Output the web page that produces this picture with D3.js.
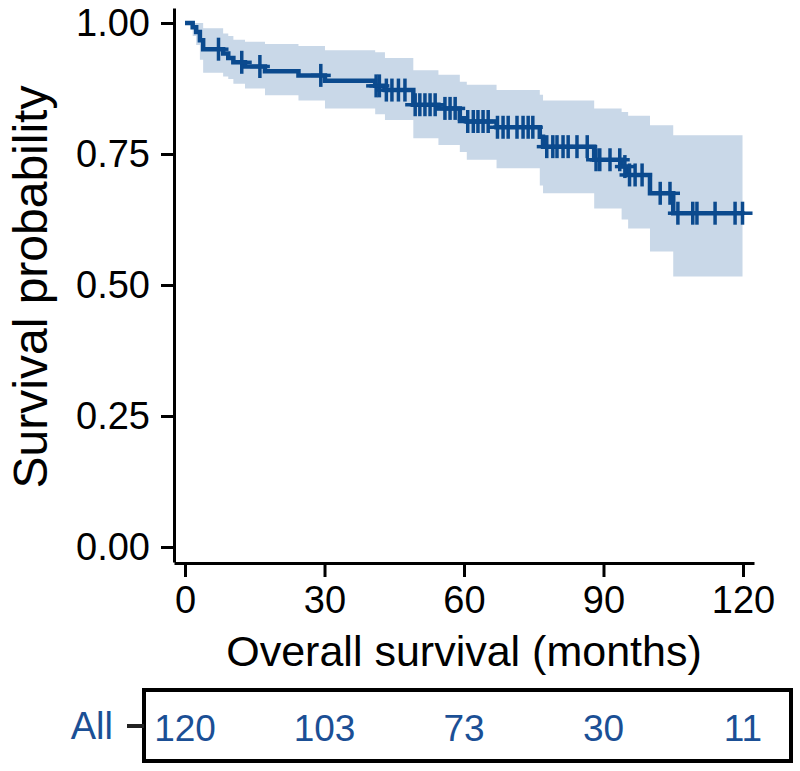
<!DOCTYPE html>
<html>
<head>
<meta charset="utf-8">
<script src="https://cdn.jsdelivr.net/npm/d3@7"></script>
<style>
  html, body { margin: 0; padding: 0; background: #ffffff; }
  svg { display: block; }
  text { font-family: "Liberation Sans", Arial, Helvetica, sans-serif; }
</style>
</head>
<body>
<svg id="chart" width="800" height="771"></svg>
<script>
// ---- Data ----
// Kaplan-Meier step times (months) and survival estimate after each step
const stepTimes = [0, 1.65, 2.4, 3.2, 3.9, 8.2, 9.3, 10.4, 12.9, 17.2, 24.4, 30.1, 40.9, 43.0, 49.1, 54.5, 59.1, 60.6, 67.0, 76.3, 77.0, 88.0, 93.9, 95.3, 100.0, 105.0];
const survival  = [1.000, 0.992, 0.983, 0.967, 0.950, 0.942, 0.933, 0.925, 0.917, 0.908, 0.900, 0.890, 0.880, 0.872, 0.844, 0.837, 0.818, 0.812, 0.801, 0.783, 0.764, 0.739, 0.726, 0.710, 0.675, 0.637];
const upperCI   = [1.000, 1.000, 1.000, 1.000, 0.990, 0.980, 0.975, 0.968, 0.964, 0.960, 0.956, 0.948, 0.944, 0.933, 0.910, 0.901, 0.888, 0.882, 0.872, 0.863, 0.852, 0.837, 0.830, 0.823, 0.805, 0.786];
const lowerCI   = [1.000, 0.975, 0.958, 0.930, 0.905, 0.898, 0.893, 0.884, 0.875, 0.862, 0.852, 0.837, 0.826, 0.815, 0.780, 0.767, 0.754, 0.739, 0.723, 0.690, 0.675, 0.646, 0.625, 0.608, 0.564, 0.516];
// Censoring times (months)
const censorTimes = [7.2, 12.2, 16.1, 29.2, 41.1, 41.8, 43.3, 44.5, 45.9, 47.3, 49.5, 50.5, 51.6, 52.7, 53.8,
  55.9, 57.0, 58.1, 60.8, 62.0, 63.0, 64.1, 65.2, 67.2, 68.4, 69.5, 71.4, 72.7, 73.8, 74.8,
  77.8, 79.1, 80.0, 81.3, 82.4, 84.3, 86.5, 88.4, 89.2, 91.4, 93.5, 94.6, 95.6, 96.8, 98.3,
  102.2, 104.3, 106.0, 109.2, 110.1, 114.0, 118.3, 119.9];
// Axis ticks
const xTicks = [0, 30, 60, 90, 120];
const yTicks = [0, 0.25, 0.5, 0.75, 1.0];
// Number at risk table
const riskGroup = "All";
const riskTimes = [0, 30, 60, 90, 120];
const riskCounts = [120, 103, 73, 30, 11];

// ---- Styles ----
const lineColor = "#0b4a8e";
const bandColor = "#c9d8e8";
const textBlue = "#1b4f95";

const svg = d3.select("#chart");

const x = d3.scaleLinear().domain([-2.37, 122.37]).range([174, 754]);
const y = d3.scaleLinear().domain([-0.0286, 1.0286]).range([562, 8]);

const endTime = d3.max(censorTimes);
const steps = stepTimes.map((t, i) => ({ t, s: survival[i], u: upperCI[i], l: lowerCI[i] }));
const stepsExt = steps.concat([{ t: endTime, s: survival[survival.length - 1], u: upperCI[upperCI.length - 1], l: lowerCI[lowerCI.length - 1] }]);

// Confidence band
const area = d3.area()
  .curve(d3.curveStepAfter)
  .x(d => x(d.t))
  .y0(d => y(d.l))
  .y1(d => y(d.u));
svg.append("path").datum(stepsExt)
  .attr("d", area)
  .attr("fill", bandColor)
  .attr("stroke", "none");

// Survival curve
const line = d3.line()
  .curve(d3.curveStepAfter)
  .x(d => x(d.t))
  .y(d => y(d.s));
svg.append("path").datum(stepsExt)
  .attr("d", line)
  .attr("fill", "none")
  .attr("stroke", lineColor)
  .attr("stroke-width", 4.5);

// Censor marks
const bis = d3.bisector(d => d.t).right;
function survAt(t) {
  const i = bis(steps, t) - 1;
  return steps[Math.max(0, i)].s;
}
const marks = svg.append("g");
censorTimes.forEach(t => {
  const cx = x(t), cy = y(survAt(t));
  marks.append("line").attr("x1", cx).attr("x2", cx).attr("y1", cy - 11.5).attr("y2", cy + 11.5)
    .attr("stroke", lineColor).attr("stroke-width", 3.5);
  marks.append("line").attr("x1", cx - 10).attr("x2", cx + 10).attr("y1", cy).attr("y2", cy)
    .attr("stroke", lineColor).attr("stroke-width", 3.5);
});

// Axes
const yAxis = d3.axisLeft(y).tickValues(yTicks).tickFormat(d3.format(".2f"))
  .tickSize(13).tickSizeOuter(0).tickPadding(11);
const gy = svg.append("g").attr("transform", "translate(174,0)").call(yAxis);
const xAxis = d3.axisBottom(x).tickValues(xTicks).tickFormat(d3.format("d"))
  .tickSize(14).tickSizeOuter(0).tickPadding(9);
const gx = svg.append("g").attr("transform", "translate(0,563)").call(xAxis);

[gx, gy].forEach(g => {
  g.select(".domain").attr("stroke", "#000").attr("stroke-width", 3);
  g.selectAll(".tick line").attr("stroke", "#000").attr("stroke-width", 3);
  g.selectAll(".tick text").attr("fill", "#000").style("font-size", "38px")
    .style("font-family", '"Liberation Sans", Arial, sans-serif');
});

// Axis titles
svg.append("text")
  .attr("x", 464).attr("y", 666)
  .attr("text-anchor", "middle")
  .style("font-size", "43px")
  .attr("fill", "#000")
  .text("Overall survival (months)");

svg.append("text")
  .attr("transform", "translate(47,287) rotate(-90)")
  .attr("text-anchor", "middle")
  .style("font-size", "48px")
  .attr("fill", "#000")
  .text("Survival probability");

// Risk table
svg.append("rect")
  .attr("x", 144).attr("y", 690)
  .attr("width", 647).attr("height", 71)
  .attr("fill", "none").attr("stroke", "#000").attr("stroke-width", 4);

svg.append("line")
  .attr("x1", 127).attr("x2", 144).attr("y1", 726).attr("y2", 726)
  .attr("stroke", "#222").attr("stroke-width", 4);

svg.append("text")
  .attr("x", 113).attr("y", 739)
  .attr("text-anchor", "end")
  .style("font-size", "38px")
  .attr("fill", textBlue)
  .text(riskGroup);

svg.append("g").selectAll("text")
  .data(riskTimes.map((t, i) => ({ t, n: riskCounts[i] })))
  .join("text")
  .attr("x", d => x(d.t))
  .attr("y", 741)
  .attr("text-anchor", "middle")
  .style("font-size", "37px")
  .attr("fill", textBlue)
  .text(d => d.n);
</script>
</body>
</html>
